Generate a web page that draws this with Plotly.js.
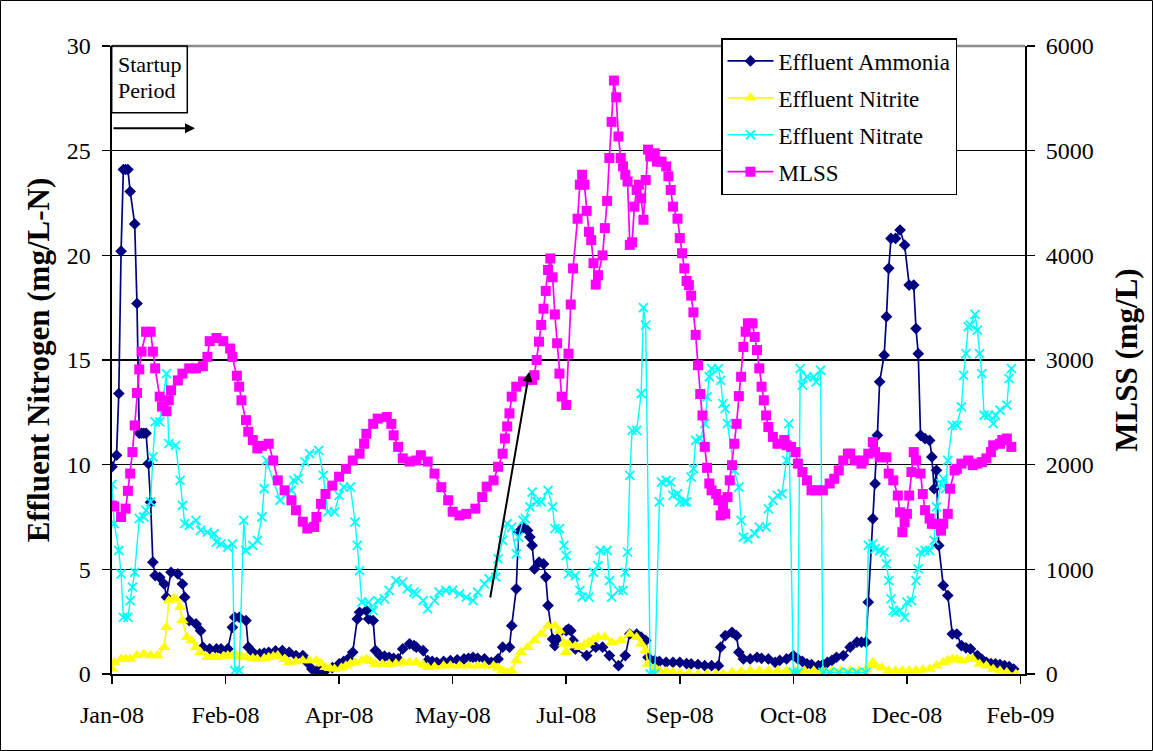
<!DOCTYPE html>
<html>
<head>
<meta charset="utf-8">
<script src="https://cdn.plot.ly/plotly-3.0.1.min.js"></script>
<style>
  html, body { margin: 0; padding: 0; background: #fff; }
  #chart { width: 1153px; height: 751px; }
</style>
</head>
<body>
<div id="chart"></div>
<script>
// Sampling days are counted from 1 Jan 2008.
const AMMONIA_DAY = [0,2,3,4,5,6,7,8,10,11,12,13,14,15,16,17,18,19,21,23,24,26,29,31,32,34,37,39,40,43,46,48,51,53,54,56,59,60,62,65,67,69,72,75,78,81,84,86,88,90,92,94,97,100,102,104,106,108,109,112,113,115,116,118,120,122,124,126,128,131,133,134,137,139,141,143,146,149,152,155,157,159,161,164,167,170,172,175,176,178,179,181,183,184,185,186,188,190,191,192,194,195,196,200,201,202,203,204,209,213,216,219,223,226,228,231,233,235,236,239,241,244,247,250,253,255,258,261,264,267,268,270,273,275,276,278,281,284,286,289,292,294,297,300,302,304,306,308,311,313,315,317,319,322,325,328,330,332,333,335,336,337,338,340,341,342,343,345,347,349,351,353,354,355,356,358,360,361,362,363,364,366,368,370,372,374,376,378,381,383,385,387,389,391,393,395,397];
const AMMONIA = [9.9,10.45,13.4,20.2,24.1,24.1,24.1,23.05,21.5,17.7,11.5,11.5,11.5,11.5,10.05,8.2,5.34,4.7,4.62,4.3,3.67,4.86,4.78,4.3,3.67,2.55,2.39,2.07,1.28,1.2,1.2,1.2,1.2,2.23,2.71,2.71,2.55,1.28,1.04,0.96,1.0,1.04,1.1,1.12,1.04,0.88,0.88,0.55,0.24,0.16,0.16,0.16,0.3,0.48,0.6,0.72,1.04,2.63,2.95,3.03,2.63,2.55,1.12,0.88,0.85,0.8,0.75,0.72,1.2,1.44,1.36,1.28,1.12,0.64,0.6,0.56,0.6,0.64,0.68,0.72,0.75,0.8,0.75,0.72,0.56,0.72,1.28,1.28,2.31,4.07,6.78,7.02,6.86,6.54,6.14,5.02,5.34,5.26,4.63,3.27,1.67,1.36,1.67,2.07,2.15,2.07,1.6,1.2,0.88,1.28,1.28,0.88,0.4,0.88,1.91,1.91,1.76,1.6,0.8,0.64,0.6,0.56,0.56,0.56,0.5,0.48,0.45,0.4,0.4,0.4,1.28,1.83,1.99,1.83,1.04,0.72,0.72,0.8,0.75,0.72,0.56,0.65,0.72,0.88,0.72,0.6,0.48,0.45,0.4,0.45,0.56,0.65,0.8,0.88,1.28,1.52,1.52,1.52,3.43,7.42,9.09,11.4,13.96,15.23,17.07,19.38,20.81,20.81,21.21,20.49,18.58,18.58,16.5,15.3,11.4,11.24,11.16,10.37,8.85,9.73,6.14,4.23,3.75,1.91,1.91,1.36,1.25,1.2,0.88,0.7,0.56,0.5,0.48,0.45,0.4,0.35,0.24];

const NITRITE_DAY = [0,1,4,6,8,11,14,17,20,23,24,25,27,28,30,31,33,35,37,39,42,44,46,49,51,53,55,57,59,62,64,67,69,71,73,76,78,81,84,87,90,92,94,96,98,101,103,105,107,110,112,114,116,119,122,125,128,131,134,137,139,142,146,149,153,157,161,164,168,170,172,174,176,178,180,183,186,189,192,195,197,199,200,201,204,206,208,210,212,214,217,220,224,228,231,233,235,236,239,241,244,247,250,254,258,262,266,269,273,277,281,285,289,293,297,301,305,309,313,317,321,325,329,332,335,336,339,342,345,348,351,354,357,360,363,366,368,370,372,374,377,379,382,385,388,391,394,398];
const NITRITE = [0.24,0.56,0.72,0.72,0.72,0.88,0.96,0.88,0.88,1.28,2.23,3.51,3.6,3.59,3.19,2.55,1.76,1.6,1.28,1.04,0.8,0.8,0.8,0.85,0.88,0.88,0.88,0.85,0.8,0.75,0.72,0.75,0.8,0.85,0.88,0.7,0.56,0.6,0.64,0.64,0.64,0.5,0.32,0.28,0.24,0.3,0.4,0.5,0.56,0.65,0.72,0.6,0.48,0.48,0.48,0.5,0.56,0.56,0.56,0.45,0.32,0.35,0.4,0.4,0.4,0.4,0.4,0.4,0.4,0.3,0.16,0.08,0.16,0.64,1.04,1.28,1.6,1.91,2.31,2.31,2.07,1.44,1.04,1.44,1.35,1.28,1.4,1.52,1.65,1.76,1.76,1.52,1.6,1.91,1.76,1.44,1.12,0.48,0.3,0.16,0.12,0.08,0.05,0.03,0,0,0,0,0.08,0.12,0.16,0.16,0.16,0.16,0.16,0.16,0.16,0.16,0.16,0.16,0.16,0.16,0.16,0.2,0.56,0.4,0.3,0.16,0.16,0.16,0.16,0.18,0.2,0.24,0.4,0.56,0.65,0.72,0.7,0.64,0.7,0.72,0.48,0.4,0.24,0.15,0.08,0];

const NITRATE_DAY = [0,1,3,4,5,7,8,9,10,12,14,15,17,18,19,21,24,25,28,30,31,32,34,37,39,42,45,46,48,51,53,54,56,58,59,62,64,66,67,68,74,79,80,82,85,87,91,93,95,98,100,102,105,107,108,109,110,113,115,117,120,122,125,128,130,133,134,137,139,142,144,147,150,153,156,159,161,164,166,169,170,172,174,176,178,179,181,182,184,185,187,189,192,194,195,197,199,200,201,204,206,207,210,212,214,215,218,219,220,223,225,226,227,228,229,231,233,234,235,237,239,241,242,244,246,247,249,250,252,253,255,256,257,259,261,262,263,264,267,268,269,270,271,274,276,277,278,280,283,285,288,289,291,293,295,297,298,300,302,303,304,306,309,310,312,313,316,320,324,328,332,333,335,336,338,340,341,342,343,344,345,347,349,350,352,354,355,356,358,360,362,363,365,366,367,368,370,372,374,375,376,377,378,380,381,382,383,384,386,388,389,391,394,395,396];
const NITRATE = [9.06,7.18,5.9,4.78,2.71,2.71,3.51,4.15,4.86,7.42,7.5,7.82,8.22,10.37,12.04,12.04,14.35,11.0,10.92,9.25,8.05,7.18,7.1,7.34,6.86,6.78,6.7,6.3,6.22,6.06,6.22,0.16,0.16,7.34,5.9,6.14,6.38,7.5,8.85,10.2,8.3,8.77,9.25,9.33,10.13,10.53,10.68,9.49,7.74,7.74,8.53,8.93,8.93,7.26,6.14,4.94,3.43,3.43,3.03,3.51,3.59,3.99,4.46,4.39,4.07,3.91,3.83,3.51,3.11,3.51,3.91,3.99,3.99,3.83,3.67,3.51,3.91,4.31,4.55,4.63,5.5,6.38,7.18,7.02,5.74,6.54,7.34,7.42,7.98,8.69,8.22,8.22,8.77,7.98,6.94,6.94,6.14,5.66,4.78,4.7,3.99,3.67,3.67,4.86,5.18,5.9,5.9,4.46,3.67,3.99,3.99,4.86,5.82,9.49,11.64,11.64,13.4,17.5,16.67,0,0,8.22,9.17,9.25,9.17,8.53,8.61,8.22,8.22,8.22,9.41,9.81,11.16,11.24,11.96,13.24,14.2,14.59,14.59,14.03,12.92,12.68,11.96,9.73,8.93,7.34,6.54,6.46,6.7,7.02,7.02,7.89,8.29,8.53,8.61,10.21,11.96,0.08,0.08,14.59,13.8,14.2,14.2,13.96,14.51,0.08,0.08,0.08,0.08,0.08,0.08,6.14,6.22,5.98,5.9,5.82,5.26,4.46,3.59,3.03,2.95,3.03,2.71,3.43,3.51,4.46,5.02,5.82,5.9,5.9,6.38,7.98,9.09,9.33,8.85,10.21,11.88,11.88,12.76,14.27,15.3,16.59,16.67,17.18,16.43,15.3,14.35,12.36,12.36,11.96,12.36,12.6,12.84,14.11,14.59];

const MLSS_DAY = [0,1,4,6,7,8,9,10,11,12,13,15,17,18,19,21,22,24,25,26,29,31,34,37,40,42,43,46,49,52,53,55,56,57,59,60,62,64,66,69,71,73,76,79,81,84,86,89,90,92,94,97,100,103,106,109,111,112,115,117,121,123,124,126,128,131,134,136,139,142,145,148,150,153,156,160,163,165,168,170,172,173,174,175,176,178,181,185,186,187,188,189,190,191,192,193,194,195,196,197,198,200,201,202,203,205,206,207,208,209,210,211,212,213,214,216,217,218,219,220,221,222,223,224,225,226,227,228,229,230,231,232,233,234,235,236,237,239,240,242,244,245,246,247,249,250,251,252,253,254,255,256,257,258,259,260,261,262,263,264,266,267,268,269,270,271,272,273,274,275,276,277,278,279,280,282,283,284,285,286,287,288,289,291,293,296,297,299,301,302,304,306,308,310,313,316,318,320,322,324,325,327,330,331,333,335,336,338,341,342,344,346,347,348,349,350,351,352,353,354,356,357,358,360,361,363,365,366,368,369,371,372,374,377,379,381,383,385,387,388,391,392,394,396];
const MLSS = [1610,1600,1500,1580,1750,1915,2120,2375,2685,2910,3080,3270,3270,3080,2920,2650,2555,2510,2615,2710,2805,2870,2920,2920,2940,3030,3180,3210,3180,3110,3030,2850,2745,2615,2425,2315,2235,2155,2180,2200,2040,1850,1755,1660,1565,1455,1390,1405,1500,1625,1720,1800,1885,1960,2040,2105,2200,2295,2390,2440,2455,2390,2280,2170,2060,2030,2040,2090,2030,1915,1785,1660,1550,1515,1530,1580,1690,1790,1850,1980,2105,2250,2365,2490,2650,2745,2795,2810,2855,3000,3175,3335,3490,3660,3860,3970,3790,3435,3160,2870,2650,2570,3060,3530,3875,4350,4675,4770,4675,4425,4225,4145,3925,3720,3810,4000,4260,4520,4930,5275,5670,5510,5135,4930,4850,4770,4705,4100,4125,4465,4625,4675,4545,4340,4720,5010,4945,4975,4895,4895,4850,4755,4625,4465,4350,4165,4020,3875,3755,3715,3615,3455,3240,2950,2675,2470,2170,1970,1820,1755,1720,1660,1515,1595,1530,1690,1850,1995,2200,2390,2655,2840,3125,3270,3350,3350,3220,3095,2920,2745,2615,2470,2360,2265,2200,2235,2185,2170,2120,2010,1930,1850,1755,1755,1755,1820,1865,1945,2040,2105,2105,2040,2010,2040,2105,2215,2120,2070,2070,1915,1850,1705,1545,1355,1450,1530,1705,1930,2120,2040,1915,1720,1565,1485,1435,1435,1370,1435,1530,1770,1945,1960,2010,2040,1995,2010,2025,2060,2120,2185,2200,2235,2250,2170];

const START = Date.UTC(2008, 0, 1);
const toDate = d => new Date(START + d * 864e5).toISOString().slice(0, 10);

const FONT = 'Liberation Serif, Times New Roman, serif';
const TICK_FONT = { family: FONT, size: 24, color: '#000' };
const TITLE_FONT = { family: FONT, size: 31, weight: 'bold', color: '#000' };

const traces = [
  {
    name: 'Effluent Ammonia', legendgroup: 'a',
    x: AMMONIA_DAY.map(toDate), y: AMMONIA, mode: 'lines+markers',
    line: { color: '#000080', width: 1.7 },
    marker: { symbol: 'diamond', size: 9, color: '#000080' }
  },
  {
    name: 'Effluent Nitrite', legendgroup: 'b',
    x: NITRITE_DAY.map(toDate), y: NITRITE, mode: 'lines+markers',
    line: { color: '#FFFF00', width: 1.7 },
    marker: { symbol: 'triangle-up', size: 11, color: '#FFFF00' }
  },
  {
    name: 'Effluent Nitrate', legendgroup: 'c',
    x: NITRATE_DAY.map(toDate), y: NITRATE, mode: 'lines+markers',
    line: { color: '#00FFFF', width: 1.4 },
    marker: { symbol: 'x-thin', size: 9, color: '#00FFFF', line: { color: '#00FFFF', width: 1.8 } }
  },
  {
    name: 'MLSS', legendgroup: 'd', yaxis: 'y2',
    x: MLSS_DAY.map(toDate), y: MLSS, mode: 'lines+markers',
    line: { color: '#FF00FF', width: 1.7 },
    marker: { symbol: 'square', size: 10, color: '#FF00FF' }
  }
];

// plot-area geometry (px) used to place annotation boxes and arrows
const L = 112, T = 46, W = 913, H = 628;
const px = x => (x - L) / W;
const py = y => (T + H - y) / H;

const layout = {
  width: 1153, height: 751,
  margin: { l: L, r: 1153 - L - W, t: T, b: 751 - T - H },
  paper_bgcolor: '#fff', plot_bgcolor: '#fff',
  font: { family: FONT, size: 23, color: '#000' },
  showlegend: true,
  legend: {
    x: px(721), y: py(38), xanchor: 'left', yanchor: 'top',
    bgcolor: '#fff', bordercolor: '#000', borderwidth: 1.5,
    font: { family: FONT, size: 23, color: '#000' },
    traceorder: 'grouped', tracegroupgap: 4, itemwidth: 46
  },
  xaxis: {
    type: 'date',
    range: ['2008-01-01', '2009-02-06'],
    tick0: '2008-01-01', dtick: 50 * 864e5, tickformat: '%b-%y',
    ticks: 'outside', ticklen: 8, tickwidth: 1.5, tickcolor: '#000',
    ticklabelstandoff: 10,
    showgrid: false, zeroline: false,
    showline: true, linecolor: '#000', linewidth: 2,
    tickfont: TICK_FONT
  },
  yaxis: {
    range: [0, 30], dtick: 5,
    ticks: 'outside', ticklen: 8, tickwidth: 1.5, tickcolor: '#000',
    ticklabelstandoff: 6,
    showgrid: true, gridcolor: '#000', gridwidth: 1.5, zeroline: false,
    showline: true, linecolor: '#000', linewidth: 2.5,
    tickfont: TICK_FONT,
    title: { text: 'Effluent Nitrogen (mg/L-N)', font: TITLE_FONT, standoff: 8 }
  },
  yaxis2: {
    overlaying: 'y', side: 'right',
    range: [0, 6000], dtick: 1000,
    ticks: 'outside', ticklen: 8, tickwidth: 1.5, tickcolor: '#000',
    ticklabelstandoff: 6,
    showgrid: false, zeroline: false,
    showline: true, linecolor: '#000', linewidth: 2,
    tickfont: TICK_FONT,
    title: { text: 'MLSS (mg/L)', font: TITLE_FONT, standoff: 23 }
  },
  shapes: [
    // top edge of the plot area
    { type: 'line', xref: 'paper', yref: 'paper', x0: 0, x1: 1, y0: 1, y1: 1,
      line: { color: '#8c8c8c', width: 2.5 }, layer: 'above' },
    // box around the startup label
    { type: 'rect', xref: 'paper', yref: 'paper',
      x0: px(111.7), x1: px(187.3), y0: py(112.7), y1: py(46),
      line: { color: '#000', width: 1.5 }, fillcolor: 'rgba(0,0,0,0)', layer: 'above' },
    // outer chart frame
    { type: 'rect', xref: 'paper', yref: 'paper',
      x0: px(0.5), x1: px(1152.5), y0: py(750.5), y1: py(0.5),
      line: { color: '#000', width: 1 }, fillcolor: 'rgba(0,0,0,0)', layer: 'above' }
  ],
  annotations: [
    { xref: 'paper', yref: 'paper', x: px(116), y: py(64), xanchor: 'left', yanchor: 'middle',
      text: 'Startup', showarrow: false, font: { family: FONT, size: 22, color: '#000' } },
    { xref: 'paper', yref: 'paper', x: px(116), y: py(90), xanchor: 'left', yanchor: 'middle',
      text: 'Period', showarrow: false, font: { family: FONT, size: 22, color: '#000' } },
    // startup period arrow
    { xref: 'paper', yref: 'paper', x: px(195), y: py(128.3), ax: -83, ay: 0,
      text: '', showarrow: true, arrowhead: 2, arrowsize: 1, arrowwidth: 2, arrowcolor: '#000' },
    // rising MLSS arrow
    { xref: 'paper', yref: 'paper', x: px(529.3), y: py(371.7), ax: -39.3, ay: 227.3,
      text: '', showarrow: true, arrowhead: 2, arrowsize: 1, arrowwidth: 2, arrowcolor: '#000' }
  ]
};

Plotly.newPlot('chart', traces, layout, { displayModeBar: false, staticPlot: true });
</script>
</body>
</html>
